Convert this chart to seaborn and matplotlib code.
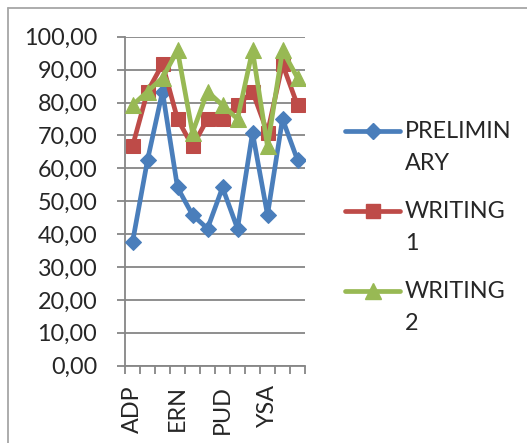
import matplotlib
matplotlib.use("Agg")
import matplotlib.pyplot as plt
from matplotlib.lines import Line2D
from matplotlib.ticker import FuncFormatter, FixedLocator
import numpy as np
import pandas as pd
import seaborn as sns

# Student scores per assessment (12 students, every third label shown)
tick_labels = ["ADP", "", "", "ERN", "", "", "PUD", "", "", "YSA", "", ""]
preliminary = [37.50, 62.50, 83.33, 54.17, 45.83, 41.67, 54.17, 41.67, 70.83, 45.83, 75.00, 62.50]
writing_1 = [66.67, 83.33, 91.67, 75.00, 66.67, 75.00, 75.00, 79.17, 83.33, 70.83, 91.67, 79.17]
writing_2 = [79.17, 83.33, 87.50, 95.83, 70.83, 83.33, 79.17, 75.00, 95.83, 66.67, 95.83, 87.50]
series_names = ["PRELIMINARY", "WRITING 1", "WRITING 2"]
legend_labels = ["PRELIMIN\nARY", "WRITING\n1", "WRITING\n2"]

colors = {"PRELIMINARY": "#4A7EBB", "WRITING 1": "#BE4B48", "WRITING 2": "#98B954"}
markers = {"PRELIMINARY": "D", "WRITING 1": "s", "WRITING 2": "^"}
msizes = {"PRELIMINARY": 8.5, "WRITING 1": 10.5, "WRITING 2": 11.5}

idx = np.arange(len(preliminary))
df = pd.concat([
    pd.DataFrame({"student": idx, "score": vals, "series": name})
    for name, vals in zip(series_names, [preliminary, writing_1, writing_2])
], ignore_index=True)

sns.set_style("white")
plt.rcParams["font.family"] = ["Lato", "DejaVu Sans"]
FS = 16.8

fig = plt.figure(figsize=(5.27, 4.43), dpi=100)
ax = fig.add_axes([125 / 527, 1 - 365.7 / 443, 180 / 527, (365.7 - 36.7) / 443])

for name in series_names:
    sub = df[df["series"] == name]
    sns.lineplot(data=sub, x="student", y="score", ax=ax, color=colors[name],
                 linewidth=3.4, marker=markers[name], markersize=msizes[name],
                 markeredgecolor=colors[name], markerfacecolor=colors[name],
                 legend=False, zorder=3)

ax.set_xlim(-0.5, len(idx) - 0.5)
ax.set_ylim(0, 100)
ax.set_xlabel("")
ax.set_ylabel("")

grid_c = "#868686"
ax.set_yticks(np.arange(0, 101, 10))
ax.yaxis.set_major_formatter(FuncFormatter(lambda v, p: f"{v:.2f}".replace(".", ",")))
ax.yaxis.grid(True, color=grid_c, linewidth=1.3)
ax.xaxis.grid(False)
ax.tick_params(axis="y", length=6, width=1.3, color=grid_c, pad=14, labelsize=FS, left=True)

ax.set_xticks(idx)
ax.set_xticklabels(tick_labels, rotation=90, fontsize=FS)
ax.tick_params(axis="x", which="major", length=0, pad=14)
ax.xaxis.set_minor_locator(FixedLocator(np.arange(-0.5, len(idx), 1)))
ax.tick_params(axis="x", which="minor", length=6, width=1.3, color=grid_c, bottom=True)

for side in ["top", "right"]:
    ax.spines[side].set_visible(False)
for side in ["left", "bottom"]:
    ax.spines[side].set_color(grid_c)
    ax.spines[side].set_linewidth(1.3)

# Legend drawn beside the plot area
W, H = 527, 443
for i, name in enumerate(series_names):
    y = 131 + i * 80
    fig.add_artist(Line2D([345 / W, 400 / W], [1 - y / H, 1 - y / H], color=colors[name],
                          linewidth=3.4, solid_capstyle="round"))
    fig.add_artist(Line2D([372.5 / W], [1 - y / H], color=colors[name], marker=markers[name],
                          markersize=msizes[name], linestyle="none"))
    first, second = legend_labels[i].split("\n")
    fig.text(405 / W, 1 - y / H, first, fontsize=FS, va="center", ha="left")
    fig.text(405 / W, 1 - (y + 32) / H, second, fontsize=FS, va="center", ha="left")

# Chart-area frame (top and left edges)
frame_c = "#A6A6A6"
fig.add_artist(Line2D([8 / W, 1.0], [1 - 8 / H, 1 - 8 / H], color=frame_c, linewidth=1.3))
fig.add_artist(Line2D([8 / W, 8 / W], [0.0, 1 - 8 / H], color=frame_c, linewidth=1.3))

fig.savefig("out.png", dpi=100)
